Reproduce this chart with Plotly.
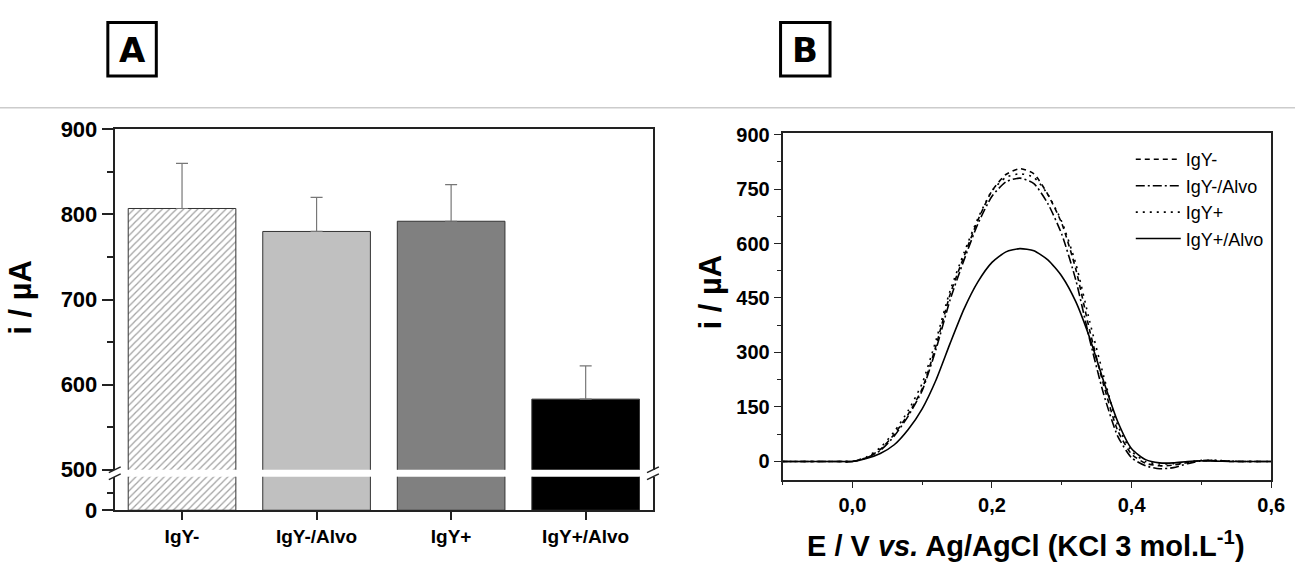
import plotly.graph_objects as go

# ---------------- data ----------------
categories = ["IgY-", "IgY-/Alvo", "IgY+", "IgY+/Alvo"]
current_mean = [807, 780, 792, 583]
current_err = [53, 40, 43, 39]
bar_colors = ["#ffffff", "#c0c0c0", "#808080", "#000000"]
bar_patterns = ["/", "", "", ""]

potential = [-0.10, -0.08, -0.06, -0.04, -0.02, 0.00, 0.02, 0.04, 0.06, 0.08,
             0.10, 0.12, 0.14, 0.16, 0.18, 0.20, 0.22, 0.24, 0.26, 0.28,
             0.30, 0.32, 0.34, 0.36, 0.38, 0.40, 0.42, 0.44, 0.46, 0.48,
             0.50, 0.52, 0.54, 0.56, 0.58, 0.60]
igy_neg = [0, 0, 0, 0, 0, 0, 10, 33, 75, 130, 200, 320, 460, 565, 665, 745,
           790, 806, 792, 735, 655, 530, 360, 210, 85, 20, -5, -12, -10, -3,
           2, 2, 0, 0, 0, 0]
igy_neg_alvo = [0, 0, 0, 0, 0, 0, 10, 30, 70, 125, 195, 310, 445, 555, 655, 730,
                770, 780, 765, 710, 625, 500, 335, 185, 70, 10, -12, -20, -17, -6,
                2, 3, 1, 0, 0, 0]
igy_pos = [0, 0, 0, 0, 0, 0, 12, 38, 82, 140, 215, 335, 470, 575, 670, 745,
           782, 792, 782, 735, 660, 545, 385, 235, 100, 28, 0, -7, -6, -2,
           3, 3, 1, 0, 0, 0]
igy_pos_alvo = [0, 0, 0, 0, 0, 0, 8, 22, 46, 88, 145, 225, 325, 420, 495, 548,
                577, 586, 580, 555, 510, 440, 340, 220, 110, 35, 5, -4, -4, 0,
                2, 1, 0, 0, 0, 0]

series_names = ["IgY-", "IgY-/Alvo", "IgY+", "IgY+/Alvo"]
series_values = [igy_neg, igy_neg_alvo, igy_pos, igy_pos_alvo]
series_dash = ["5px,4px", "9px,3px,2px,3px", "2px,5px", "solid"]

bar_ticks_upper = [500, 600, 700, 800, 900]
bar_ticks_lower = [0]
cv_yticks = [0, 150, 300, 450, 600, 750, 900]
cv_xticks = [0.0, 0.2, 0.4, 0.6]
cv_xticklabels = ["0,0", "0,2", "0,4", "0,6"]

# ---------------- layout helpers ----------------
W, H = 1309, 572
FONT = "Liberation Sans, Arial, sans-serif"
HEAVY = "DejaVu Sans, Liberation Sans, sans-serif"


def px(x):
    return x / W


def py(y):
    return 1 - y / H


fig = go.Figure()

bar_common = dict(
    x=categories,
    y=current_mean,
    marker=dict(
        color=bar_colors,
        line=dict(color="#333333", width=1),
        pattern=dict(shape=bar_patterns, fgcolor="#111111", size=5,
                     solidity=0.25, fillmode="overlay"),
    ),
    showlegend=False,
    hoverinfo="x+y",
)

# lower (broken) segment
fig.add_trace(go.Bar(xaxis="x", yaxis="y", **bar_common))
# upper segment with error bars
fig.add_trace(go.Bar(
    xaxis="x2", yaxis="y2",
    error_y=dict(type="data", symmetric=False, array=current_err,
                 arrayminus=[0] * len(current_err), color="#777777",
                 thickness=1.2, width=6),
    **bar_common))

for name, vals, dash in zip(series_names, series_values, series_dash):
    fig.add_trace(go.Scatter(
        x=potential, y=vals, name=name, mode="lines",
        xaxis="x3", yaxis="y3",
        line=dict(color="black", width=1.6, dash=dash, shape="spline",
                  smoothing=0.6),
    ))

axis_font = dict(family=FONT, size=22, color="black", weight="bold")
cv_font = dict(family=FONT, size=20, color="black", weight="bold")

fig.update_layout(
    width=W, height=H,
    margin=dict(l=0, r=0, t=0, b=0),
    paper_bgcolor="white", plot_bgcolor="white",
    bargap=0.2,
    font=dict(family=FONT, color="black"),
    # ---- panel A lower
    xaxis=dict(domain=[px(116), px(660)], anchor="y", range=[-0.5, 3.5],
               showline=True, linecolor="#222", linewidth=2, mirror=False,
               ticks="outside", ticklen=8, tickwidth=1.5, tickcolor="#222",
               tickfont=dict(family=FONT, size=19, color="black", weight="bold"),
               showgrid=False, zeroline=False, fixedrange=True),
    yaxis=dict(domain=[py(521), py(486)], anchor="x", range=[0, 500],
               tickvals=bar_ticks_lower, showline=True, linecolor="#222",
               linewidth=2, mirror=True, ticks="outside", ticklen=11,
               tickwidth=1.5, tickcolor="#222", tickfont=axis_font,
               minor=dict(tickvals=[250], ticklen=6, tickwidth=1.5,
                          tickcolor="#222", ticks="outside"),
               showgrid=False, zeroline=False),
    # ---- panel A upper
    xaxis2=dict(domain=[px(116), px(660)], anchor="y2", matches="x",
                side="top", showline=True, linecolor="#222", linewidth=2,
                showticklabels=False, ticks="", showgrid=False,
                zeroline=False),
    yaxis2=dict(domain=[py(478.7), py(122.7)], anchor="x2", range=[500, 900],
                tickvals=bar_ticks_upper, showline=True, linecolor="#222",
                linewidth=2, mirror=True, ticks="outside", ticklen=11,
                tickwidth=1.5, tickcolor="#222", tickfont=axis_font,
                minor=dict(tickvals=[550, 650, 750, 850], ticklen=6,
                           tickwidth=1.5, tickcolor="#222", ticks="outside"),
                showgrid=False, zeroline=False),
    # ---- panel B
    xaxis3=dict(domain=[px(791), px(1285)], anchor="y3", range=[-0.1, 0.6],
                tickvals=cv_xticks, ticktext=cv_xticklabels,
                showline=True, linecolor="#222", linewidth=1.6, mirror=True,
                ticks="outside", ticklen=7, tickwidth=1.4, tickcolor="#222",
                tickfont=cv_font,
                minor=dict(tickvals=[-0.1, 0.1, 0.3, 0.5], ticklen=4,
                           tickwidth=1.4, tickcolor="#222", ticks="outside"),
                showgrid=False, zeroline=False),
    yaxis3=dict(domain=[py(489), py(127)], anchor="x3", range=[-50, 903],
                tickvals=cv_yticks, showline=True, linecolor="#222",
                linewidth=1.6, mirror=True, ticks="outside", ticklen=7,
                tickwidth=1.4, tickcolor="#222", tickfont=cv_font,
                minor=dict(tickvals=[75, 225, 375, 525, 675, 825], ticklen=4,
                           tickwidth=1.4, tickcolor="#222", ticks="outside"),
                showgrid=False, zeroline=False),
    legend=dict(x=px(1143), y=py(135), xanchor="left", yanchor="top",
                bgcolor="rgba(0,0,0,0)", borderwidth=0,
                font=dict(family=FONT, size=18, color="black"),
                tracegroupgap=0, itemwidth=45),
)

# ---- axis titles / panel labels
annotations = [
    dict(x=px(21), y=py(298), text="<b>i / µA</b>", textangle=-90,
         font=dict(family=FONT, size=31, color="black")),
    dict(x=px(718), y=py(293), text="<b>i / µA</b>", textangle=-90,
         font=dict(family=FONT, size=31, color="black")),
    dict(x=px(1037), y=py(556),
         text="<b>E / V <i>vs.</i> Ag/AgCl (KCl 3 mol.L<sup>-1</sup>)</b>",
         font=dict(family=FONT, size=29, color="black")),
    dict(x=px(133.5), y=py(39.5), text="<b>A</b>",
         font=dict(family=HEAVY, size=34, color="black")),
    dict(x=px(814), y=py(39.5), text="<b>B</b>",
         font=dict(family=HEAVY, size=34, color="black")),
]
for a in annotations:
    a.update(xref="paper", yref="paper", showarrow=False,
             xanchor="center", yanchor="middle")
fig.update_layout(annotations=annotations)

shapes = [
    # separator line
    dict(type="line", xref="paper", yref="paper", x0=0, x1=1,
         y0=py(100), y1=py(100), line=dict(color="#cccccc", width=1.5)),
    # panel label boxes
    dict(type="rect", xref="paper", yref="paper", x0=px(109), x1=px(158),
         y0=py(67), y1=py(11), line=dict(color="black", width=3)),
    dict(type="rect", xref="paper", yref="paper", x0=px(789), x1=px(839),
         y0=py(67), y1=py(11), line=dict(color="black", width=3)),
]
# axis break marks
for xb in (116, 660):
    for yb in (478.7, 486):
        shapes.append(dict(type="line", xref="paper", yref="paper",
                           x0=px(xb - 6), y0=py(yb + 3),
                           x1=px(xb + 6), y1=py(yb - 3),
                           line=dict(color="#222", width=1.5)))
fig.update_layout(shapes=shapes)

fig.write_html("out.html",
               config={"displayModeBar": False},
               post_script="document.body.style.margin='0';"
                           "document.body.style.overflow='hidden';")
